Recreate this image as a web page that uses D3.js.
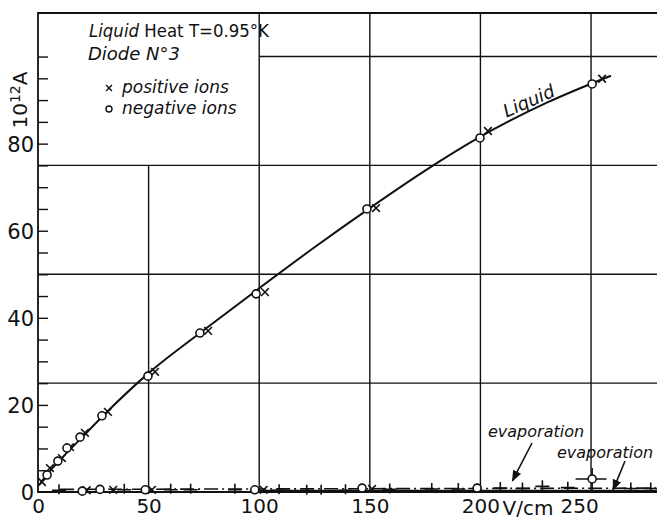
<!DOCTYPE html>
<html>
<head>
<meta charset="utf-8">
<script src="https://cdn.jsdelivr.net/npm/d3@7"></script>
<style>
  body { margin: 0; background: #fff; }
  svg { display: block; }
  text { font-family: "DejaVu Sans", sans-serif; fill: #111; }
</style>
</head>
<body>
<svg id="chart"></svg>
<script>
// liquid curve (drawn line)
const liquidLineX = [0.5, 5, 10, 20, 30, 50, 75, 100, 125, 150, 175, 200, 230, 259];
const liquidLineY = [1.6, 4.6, 7.4, 12.6, 17.8, 27.3, 37.2, 46.8, 56.2, 65.2, 73.8, 81.6, 89.4, 95.6];

// liquid, negative ions (o)
const liqNegX = [4.1, 9.0, 13.1, 19.0, 28.9, 49.7, 73.2, 98.6, 148.7, 199.8, 250.5];
const liqNegY = [3.9, 7.1, 10.1, 12.6, 17.5, 26.6, 36.5, 45.5, 65.0, 81.3, 93.7];

// liquid, positive ions (x)
const liqPosX = [1.8, 5.4, 10.8, 14.5, 21.2, 31.6, 52.9, 76.9, 102.6, 152.8, 203.4, 255];
const liqPosY = [2.3, 5.5, 7.8, 10.3, 13.6, 18.4, 27.6, 37.0, 45.9, 65.2, 82.9, 94.9];

// evaporation, negative ions (o)
const evapNegX = [20, 28, 48.5, 98, 146.5, 198.5, 250.5];
const evapNegY = [0.2, 0.6, 0.5, 0.5, 0.9, 0.9, 3.0];

// evaporation, positive ions (x)
const evapPosX = [22, 34, 51.5, 102, 151];
const evapPosY = [0.4, 0.5, 0.5, 0.5, 0.7];

// evaporation readings (+)
const evapTickX = [9.5, 39, 60, 69, 89, 109, 121.5, 128, 139, 159, 178, 190, 209, 219, 228, 239.5, 268, 277];
const evapTickY = [0.4, 0.5, 0.5, 0.5, 0.5, 0.4, 0.3, 0.3, 0.4, 0.6, 0.7, 0.7, 0.9, 0.8, 1.3, 1.0, 0.8, 0.8];

// evaporation lines
const evapUpperX = [10, 280];
const evapUpperY = [0.6, 0.9];
const evapLowerX = [100, 280];
const evapLowerY = [0.15, 0.15];

// axis ticks
const xLabels = [0, 50, 100, 150, 200, 250];
const yLabels = [0, 20, 40, 60, 80];
const yMinor = d3.range(5, 105, 5);
const gridX = [50, 100, 150, 200, 250];
const gridXTop = [75, 110, 110, 110, 110];
const gridY = [25, 50, 75, 100];
const gridYStart = [0, 0, 0, 100];

const W = 657, H = 519;
const svg = d3.select("#chart").attr("width", W).attr("height", H);

const x = d3.scaleLinear().domain([0, 280]).range([38, 657.4]);
const y = d3.scaleLinear().domain([0, 110]).range([492, 13]);

const ink = "#111";

// grid
svg.selectAll("line.gx")
  .data(gridX)
  .join("line")
  .attr("class", "gx")
  .attr("x1", d => x(d)).attr("x2", d => x(d))
  .attr("y1", y(0)).attr("y2", (d, i) => y(gridXTop[i]))
  .attr("stroke", ink).attr("stroke-width", 1.4);

svg.selectAll("line.gy")
  .data(gridY)
  .join("line")
  .attr("class", "gy")
  .attr("x1", (d, i) => x(gridYStart[i])).attr("x2", x(280))
  .attr("y1", d => y(d)).attr("y2", d => y(d))
  .attr("stroke", ink).attr("stroke-width", 1.4);

// frame: left, top, bottom
svg.append("path")
  .attr("d", `M${x(280)},${y(110)}H${x(0)}V${y(0)}H${x(280)}`)
  .attr("fill", "none").attr("stroke", ink).attr("stroke-width", 1.8);

// y axis minor ticks (inward)
svg.append("g")
  .attr("transform", `translate(${x(0)},0)`)
  .call(d3.axisRight(y).tickValues(yMinor).tickSize(10).tickFormat(""))
  .call(g => g.select(".domain").remove())
  .call(g => g.selectAll("line").attr("stroke", ink).attr("stroke-width", 1.4));

// y labels
svg.append("g")
  .attr("transform", `translate(${x(0)},0)`)
  .call(d3.axisLeft(y).tickValues(yLabels).tickSize(0).tickPadding(4))
  .call(g => g.select(".domain").remove())
  .call(g => g.selectAll("text").style("font-size", "21px").attr("dy", "0.36em"));

// x labels
svg.append("g")
  .attr("transform", `translate(0,${y(0)})`)
  .call(d3.axisBottom(x).tickValues(xLabels).tickSize(0).tickPadding(7))
  .call(g => g.select(".domain").remove())
  .call(g => g.selectAll("text").style("font-size", "20px")
    .attr("dx", d => d === 250 ? -12 : 0));

svg.append("text")
  .attr("x", x(221.5)).attr("y", 515)
  .attr("text-anchor", "middle")
  .style("font-size", "20px")
  .text("V/cm");

// y axis title
const yt = svg.append("text")
  .attr("transform", `translate(27,${y(90)}) rotate(-90)`)
  .attr("text-anchor", "middle")
  .style("font-size", "20px");
yt.append("tspan").text("10");
yt.append("tspan").attr("dy", -7).style("font-size", "14px").text("12");
yt.append("tspan").attr("dy", 7).text("A");

// liquid curve
const line = d3.line().x(d => x(d[0])).y(d => y(d[1])).curve(d3.curveMonotoneX);
svg.append("path")
  .datum(liquidLineX.map((v, i) => [v, liquidLineY[i]]))
  .attr("d", line)
  .attr("fill", "none").attr("stroke", ink).attr("stroke-width", 2);

// evaporation lines
const lineLin = d3.line().x(d => x(d[0])).y(d => y(d[1]));
svg.append("path")
  .datum(evapUpperX.map((v, i) => [v, evapUpperY[i]]))
  .attr("d", lineLin)
  .attr("fill", "none").attr("stroke", ink).attr("stroke-width", 1.6)
  .attr("stroke-dasharray", "14,4,2,4");
svg.append("path")
  .datum(evapLowerX.map((v, i) => [v, evapLowerY[i]]))
  .attr("d", lineLin)
  .attr("fill", "none").attr("stroke", ink).attr("stroke-width", 3);

// + readings
svg.selectAll("path.tick")
  .data(evapTickX.map((v, i) => [v, evapTickY[i]]))
  .join("path")
  .attr("class", "tick")
  .attr("transform", d => `translate(${x(d[0])},${y(d[1])})`)
  .attr("d", "M-7,0H7M0,-6V4")
  .attr("fill", "none").attr("stroke", ink).attr("stroke-width", 1.6);

// error bar on the evaporation point at 250
svg.append("path")
  .attr("d", `M${x(250.5)},${y(5.5)}V${y(0)}M${x(243)},${y(3.0)}H${x(257)}`)
  .attr("fill", "none").attr("stroke", ink).attr("stroke-width", 1.6);

// markers
const xMark = d3.symbol().type(d3.symbolX).size(40);
function drawX(xs, ys, cls) {
  svg.selectAll("path." + cls)
    .data(xs.map((v, i) => [v, ys[i]]))
    .join("path")
    .attr("class", cls)
    .attr("transform", d => `translate(${x(d[0])},${y(d[1])})`)
    .attr("d", xMark)
    .attr("fill", "none").attr("stroke", ink).attr("stroke-width", 1.6);
}
function drawO(xs, ys, cls) {
  svg.selectAll("circle." + cls)
    .data(xs.map((v, i) => [v, ys[i]]))
    .join("circle")
    .attr("class", cls)
    .attr("cx", d => x(d[0])).attr("cy", d => y(d[1]))
    .attr("r", 4)
    .attr("fill", "#fff").attr("stroke", ink).attr("stroke-width", 1.6);
}
drawX(liqPosX, liqPosY, "lp");
drawO(liqNegX, liqNegY, "ln");
drawX(evapPosX, evapPosY, "ep");
drawO(evapNegX, evapNegY, "en");

// curve label
svg.append("text")
  .attr("transform", `translate(${x(223)},${y(88.5)}) rotate(-24)`)
  .attr("text-anchor", "middle")
  .style("font-size", "18px").style("font-style", "italic")
  .text("Liquid");

// evaporation labels + arrows
svg.append("text")
  .attr("x", 488).attr("y", 437)
  .style("font-size", "16px").style("font-style", "italic")
  .text("evaporation");
svg.append("text")
  .attr("x", 557).attr("y", 458)
  .style("font-size", "16px").style("font-style", "italic")
  .text("evaporation");

svg.append("defs").append("marker")
  .attr("id", "arr").attr("viewBox", "0 0 10 10")
  .attr("refX", 9).attr("refY", 5)
  .attr("markerWidth", 7).attr("markerHeight", 7)
  .attr("orient", "auto")
  .append("path").attr("d", "M0,1L10,5L0,9Z").attr("fill", ink);

svg.append("line")
  .attr("x1", 532).attr("y1", 443).attr("x2", x(214.5)).attr("y2", y(2.6))
  .attr("stroke", ink).attr("stroke-width", 1.6).attr("marker-end", "url(#arr)");
svg.append("line")
  .attr("x1", 625).attr("y1", 461).attr("x2", x(260)).attr("y2", y(0.5))
  .attr("stroke", ink).attr("stroke-width", 1.6).attr("marker-end", "url(#arr)");

// legend box text
const t1 = svg.append("text").attr("x", 89).attr("y", 37).style("font-size", "18px")
  .attr("textLength", 180).attr("lengthAdjust", "spacingAndGlyphs");
t1.append("tspan").style("font-style", "italic").text("Liquid");
t1.append("tspan").text(" Heat T=0.95°K");
svg.append("text").attr("x", 88).attr("y", 60)
  .style("font-size", "18px").style("font-style", "italic")
  .text("Diode N°3");

const legend = svg.selectAll("g.legend")
  .data([{ label: "positive ions", type: "x" }, { label: "negative ions", type: "o" }])
  .join("g")
  .attr("class", "legend")
  .attr("transform", (d, i) => `translate(109,${88 + i * 21})`);
legend.filter(d => d.type === "x").append("path")
  .attr("d", d3.symbol().type(d3.symbolX).size(24))
  .attr("fill", "none").attr("stroke", ink).attr("stroke-width", 1.4);
legend.filter(d => d.type === "o").append("circle")
  .attr("r", 3).attr("fill", "#fff").attr("stroke", ink).attr("stroke-width", 1.4);
legend.append("text")
  .attr("x", 13).attr("y", 5)
  .style("font-size", "17px").style("font-style", "italic")
  .text(d => d.label);
</script>
</body>
</html>
